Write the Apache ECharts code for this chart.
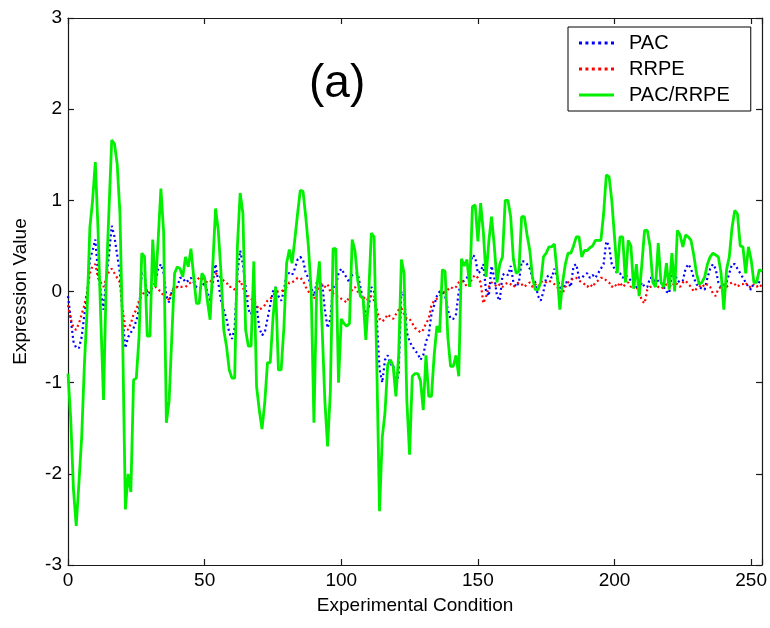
<!DOCTYPE html>
<html>
<head>
<meta charset="utf-8">
<script src="https://cdn.jsdelivr.net/npm/echarts/dist/echarts.min.js"></script>
<style>
html,body{margin:0;padding:0;background:#fff;}
#chart{width:770px;height:628px;}
</style>
</head>
<body>
<div id="chart"></div>
<script>
// Expression values per experimental condition (index = condition number)
var pacValues = [
 -0.05,-0.3,-0.55,-0.62,-0.62,-0.5,-0.25,-0.05,0.35,0.45,
 0.57,0.2,0.0,-0.2,0.15,0.4,0.72,0.6,0.4,0.2,
 -0.3,-0.62,-0.5,-0.45,-0.4,-0.32,-0.2,0.2,0.2,-0.05,
 0.0,0.05,0.1,0.25,0.3,0.2,-0.05,-0.12,0.0,0.05,
 0.05,0.15,0.15,0.1,0.12,0.15,0.1,0.05,0.03,0.05,
 0.1,0.0,-0.1,0.1,0.3,0.1,-0.1,-0.2,-0.3,-0.45,
 -0.52,-0.4,0.2,0.45,0.3,0.05,-0.2,-0.25,-0.1,-0.15,
 -0.4,-0.48,-0.45,-0.3,-0.15,0.0,0.05,-0.05,-0.1,0.0,
 0.2,0.2,0.18,0.25,0.35,0.38,0.35,0.2,0.15,0.05,
 -0.05,0.1,0.08,0.1,-0.2,-0.4,-0.3,0.05,0.05,0.2,
 0.25,0.2,0.15,0.1,0.18,0.2,0.2,0.05,-0.1,-0.27,
 -0.2,0.05,0.0,-0.3,-0.85,-1.0,-0.75,-0.7,-0.8,-0.8,
 -1.05,-0.9,0.0,-0.05,-0.45,-0.55,-0.6,-0.65,-0.68,-0.75,
 -0.7,-0.55,-0.48,-0.25,-0.15,-0.05,0.0,0.0,-0.05,-0.2,
 -0.3,-0.3,-0.25,0.0,0.1,0.12,0.15,0.25,0.4,0.38,
 0.2,0.22,0.3,0.0,-0.05,0.28,0.15,-0.05,-0.1,0.18,
 0.2,0.18,0.28,0.1,0.05,0.1,0.33,0.33,0.3,0.25,
 0.15,0.1,-0.05,-0.1,0.0,0.15,0.18,0.15,0.25,0.15,
 0.05,0.0,0.1,0.1,0.05,0.28,0.3,0.15,0.15,0.18,
 0.2,0.15,0.18,0.15,0.2,0.25,0.3,0.55,0.5,0.3,
 0.25,0.2,0.2,0.15,0.18,0.15,0.12,0.1,0.05,0.02,
 0.1,0.05,0.05,0.15,0.15,0.1,0.12,0.1,0.05,0.0,
 -0.02,0.2,0.2,0.12,0.1,0.12,0.25,0.3,0.25,0.15,
 0.08,0.05,0.03,0.02,0.15,0.25,0.3,0.25,0.1,0.05,
 0.05,0.1,0.2,0.3,0.3,0.25,0.2,0.15,0.1,0.05,
 0.02,0.1,0.12,0.1,0.08
];
var rrpeValues = [
 -0.15,-0.3,-0.4,-0.42,-0.35,-0.25,-0.15,0.0,0.2,0.28,
 0.3,0.15,0.1,0.05,0.15,0.22,0.25,0.2,0.15,0.1,
 -0.2,-0.4,-0.42,-0.35,-0.25,-0.2,-0.1,-0.05,0.0,0.0,
 0.02,0.05,0.05,0.02,0.0,-0.05,-0.1,-0.08,0.0,0.03,
 0.05,0.05,0.05,0.05,0.08,0.1,0.1,0.12,0.15,0.15,
 0.12,0.1,0.1,0.15,0.2,0.18,0.15,0.12,0.1,0.05,
 0.05,0.02,0.08,0.12,0.05,-0.05,-0.05,-0.08,-0.1,-0.15,
 -0.2,-0.18,-0.15,-0.1,-0.08,-0.05,0.0,0.0,0.0,0.02,
 0.05,0.1,0.1,0.12,0.15,0.15,0.12,0.05,0.0,-0.05,
 -0.08,0.0,0.05,0.08,0.05,0.08,0.0,-0.02,-0.05,-0.05,
 -0.08,-0.1,-0.12,-0.05,0.02,0.05,0.0,-0.05,-0.05,-0.1,
 -0.08,-0.05,-0.1,-0.2,-0.3,-0.33,-0.3,-0.25,-0.28,-0.3,
 -0.25,-0.2,-0.18,-0.25,-0.3,-0.3,-0.35,-0.4,-0.42,-0.45,
 -0.42,-0.35,-0.3,-0.15,-0.1,-0.08,-0.05,-0.02,0.0,0.02,
 0.05,0.03,0.05,0.1,0.12,0.1,0.05,0.08,0.15,0.18,
 0.15,0.1,-0.13,-0.05,0.05,0.1,0.08,0.05,0.08,0.05,
 0.08,0.1,0.08,0.05,0.08,0.1,0.08,0.05,0.08,0.1,
 0.05,0.08,0.05,0.1,0.12,0.1,0.12,0.1,0.08,0.05,
 0.0,-0.02,0.05,0.1,0.12,0.15,0.15,0.12,0.1,0.08,
 0.05,0.08,0.05,0.1,0.12,0.15,0.15,0.12,0.1,0.05,
 0.08,0.05,0.1,0.05,0.08,0.1,0.05,0.08,0.05,0.0,
 -0.1,-0.13,0.02,0.05,0.05,0.08,0.05,0.03,0.05,0.08,
 0.05,0.05,0.1,0.08,0.05,0.1,0.12,0.08,0.05,0.0,
 0.03,0.05,0.08,0.05,0.08,0.05,-0.02,-0.05,0.03,0.05,
 0.08,0.05,0.08,0.1,0.08,0.05,0.08,0.08,0.1,0.05,
 0.05,0.08,0.05,0.08,0.05
];
var ratioValues = [
 -0.9,-1.4,-2.17,-2.57,-2.1,-1.6,-0.8,-0.2,0.7,1.0,
 1.42,0.67,-0.3,-1.19,0.13,0.9,1.66,1.62,1.4,0.86,
 -0.5,-2.39,-2.0,-2.2,-0.97,-0.95,-0.5,0.42,0.38,-0.49,
 -0.49,0.57,0.05,0.57,1.13,0.65,-1.44,-1.2,-0.49,0.2,
 0.27,0.25,0.16,0.38,0.27,0.47,0.16,-0.13,-0.13,0.2,
 0.15,-0.1,-0.31,0.3,0.91,0.67,0.2,-0.42,-0.6,-0.86,
 -0.95,-0.95,0.5,1.08,0.86,-0.42,-0.6,-0.6,0.33,-1.04,
 -1.3,-1.51,-1.22,-0.78,-0.78,-0.3,0.05,-0.86,-0.86,-0.4,
 0.31,0.46,0.31,0.57,0.85,1.11,1.1,0.82,0.49,0.0,
 -1.44,0.02,0.33,-0.4,-1.2,-1.7,-1.1,0.47,0.47,-1.0,
 -0.3,-0.35,-0.38,-0.35,0.57,0.45,0.13,-0.05,-0.08,-0.53,
 -0.05,0.64,0.6,-0.8,-2.41,-1.6,-1.33,-0.8,-0.75,-0.82,
 -1.15,-0.7,0.35,0.2,-1.2,-1.79,-0.93,-0.9,-0.9,-0.98,
 -1.3,-0.7,-1.15,-1.15,-0.7,-0.38,-0.45,0.24,0.22,-0.5,
 -0.82,-0.82,-0.7,-0.93,0.36,0.28,0.35,0.05,0.93,0.95,
 0.55,0.97,0.65,0.16,0.55,0.82,0.5,0.1,0.3,0.38,
 1.0,1.0,0.82,0.35,0.2,0.22,0.82,0.82,0.62,0.45,
 0.15,0.02,0.02,0.1,0.38,0.42,0.49,0.49,0.52,0.2,
 -0.2,0.1,0.3,0.42,0.42,0.5,0.6,0.6,0.38,0.45,
 0.45,0.48,0.5,0.56,0.56,0.56,0.85,1.28,1.26,1.0,
 0.6,0.2,0.6,0.6,0.1,0.56,0.5,0.03,0.3,-0.05,
 0.3,0.67,0.67,0.5,0.1,0.05,0.53,0.1,0.05,0.31,
 0.02,0.42,0.0,0.67,0.62,0.49,0.62,0.6,0.56,0.4,
 0.2,0.08,0.1,0.16,0.3,0.38,0.42,0.4,0.38,0.2,
 -0.2,0.24,0.38,0.7,0.89,0.85,0.5,0.49,0.2,0.49,
 0.35,0.1,0.1,0.24,0.22
];
var seriesNames = ['PAC', 'RRPE', 'PAC/RRPE'];
var xTicks = [0, 50, 100, 150, 200, 250];
var yTicks = [-3, -2, -1, 0, 1, 2, 3];

function pairs(arr) {
  return arr.map(function (v, i) { return [i, v]; });
}

var FONT = '"Liberation Sans", Arial, sans-serif';
var DOT_ICON = 'path://M0 0h3v3h-3z M6.4 0h3v3h-3z M12.8 0h3v3h-3z M19.2 0h3v3h-3z M25.6 0h3v3h-3z M32 0h3v3h-3z';
var LINE_ICON = 'path://M0 0h35v3h-35z';
var axisCommon = {
  axisLine: { show: true, onZero: false, lineStyle: { color: '#1a1a1a', width: 1.2 } },
  axisTick: { show: true, inside: true, length: 6, lineStyle: { color: '#1a1a1a', width: 1.2 } },
  splitLine: { show: false }
};

var chart = echarts.init(document.getElementById('chart'), null, { renderer: 'canvas' });
chart.setOption({
  animation: false,
  backgroundColor: '#ffffff',
  grid: { left: 68, right: 6, top: 18, bottom: 63, containLabel: false },
  graphic: [{
    type: 'text', left: 309, top: 61,
    style: { text: '(a)', fontSize: 46, fontFamily: FONT, fill: '#000' }
  }],
  legend: {
    orient: 'vertical', left: 568, top: 27,
    data: [
      { name: seriesNames[0], icon: DOT_ICON },
      { name: seriesNames[1], icon: DOT_ICON },
      { name: seriesNames[2], icon: LINE_ICON }
    ],
    backgroundColor: '#fff', borderColor: '#000', borderWidth: 1,
    padding: [6, 21, 6, 11], itemGap: 6, itemWidth: 35, itemHeight: 3,
    textStyle: { fontSize: 20, lineHeight: 20, fontFamily: FONT, color: '#000', padding: [0, 0, 0, 10] }
  },
  xAxis: [
    Object.assign({
      type: 'value', min: 0, max: 254, interval: 50, position: 'bottom',
      name: 'Experimental Condition', nameLocation: 'middle', nameGap: 31,
      nameTextStyle: { fontSize: 19, fontFamily: FONT, color: '#000' },
      axisLabel: {
        margin: 6, fontSize: 19, fontFamily: FONT, color: '#000',
        formatter: function (v) { return xTicks.indexOf(v) >= 0 ? String(v) : ''; }
      }
    }, axisCommon),
    Object.assign({
      type: 'value', min: 0, max: 254, interval: 50, position: 'top',
      axisLabel: { show: false }
    }, axisCommon)
  ],
  yAxis: [
    Object.assign({
      type: 'value', min: -3, max: 3, interval: 1, position: 'left',
      name: 'Expression Value', nameLocation: 'middle', nameGap: 38, nameRotate: 90,
      nameTextStyle: { fontSize: 19, fontFamily: FONT, color: '#000' },
      axisLabel: {
        margin: 6, fontSize: 19, fontFamily: FONT, color: '#000',
        formatter: function (v) { return yTicks.indexOf(v) >= 0 ? String(v) : ''; }
      }
    }, axisCommon),
    Object.assign({
      type: 'value', min: -3, max: 3, interval: 1, position: 'right',
      axisLabel: { show: false }
    }, axisCommon)
  ],
  series: [
    {
      name: seriesNames[0], type: 'line', data: pairs(pacValues),
      symbol: 'none', color: '#0000ff',
      lineStyle: { color: '#0000ff', width: 2.2, type: [2, 3] }
    },
    {
      name: seriesNames[1], type: 'line', data: pairs(rrpeValues),
      symbol: 'none', color: '#ff0000',
      lineStyle: { color: '#ff0000', width: 2.2, type: [2, 3] }
    },
    {
      name: seriesNames[2], type: 'line', data: pairs(ratioValues),
      symbol: 'none', color: '#00f000',
      lineStyle: { color: '#00f000', width: 2.8, type: 'solid' }
    }
  ]
});
</script>
</body>
</html>
